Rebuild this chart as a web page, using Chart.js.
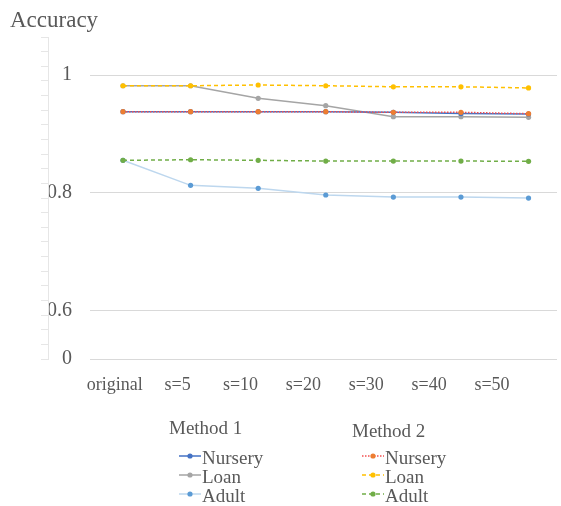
<!DOCTYPE html>
<html>
<head>
<meta charset="utf-8">
<script src="https://cdn.jsdelivr.net/npm/chart.js@4/dist/chart.umd.min.js"></script>
<style>
  html, body { margin: 0; padding: 0; background: #ffffff; }
  #wrap { position: relative; width: 561px; height: 506px; }
  #chart { position: absolute; left: 0; top: 0; }
  .legend { position: absolute; font-family: 'Liberation Serif', 'Times New Roman', serif; font-size: 19px; color: #595959; }
  .legend .head { height: 20px; line-height: 20px; white-space: nowrap; }
  .legend .row { height: 19.2px; line-height: 19.2px; white-space: nowrap; }
  .legend svg { vertical-align: top; margin-right: 1px; }
</style>
</head>
<body>
<div id="wrap">
  <canvas id="chart" width="561" height="506"></canvas>
</div>
<script>
// Catégories et valeurs
const categories = ['original', 's=5', 's=10', 's=20', 's=30', 's=40', 's=50'];

const nurseryM1 = [0.9377, 0.9377, 0.9377, 0.9377, 0.9367, 0.9346, 0.9338];
const loanM1    = [0.9818, 0.9818, 0.9604, 0.9479, 0.9292, 0.9292, 0.9282];
const adultM1   = [0.8552, 0.8127, 0.8076, 0.7963, 0.7929, 0.7929, 0.7912];

const nurseryM2 = [0.9377, 0.9377, 0.9377, 0.9377, 0.9367, 0.9367, 0.9343];
const loanM2    = [0.9818, 0.9818, 0.9830, 0.9818, 0.9800, 0.9800, 0.9780];
const adultM2   = [0.8552, 0.8562, 0.8552, 0.8540, 0.8540, 0.8540, 0.8535];

// Axe Y coupé : "0" est placé juste sous 0.6
const yTickValues = [0.518, 0.6, 0.8, 1];
const yTickLabels = ['0', '0.6', '0.8', '1'];

const methodNames = ['Method 1', 'Method 2'];
const seriesNames = ['Nursery', 'Loan', 'Adult'];

const FONT = "'Liberation Serif', 'Times New Roman', serif";
const TEXT = '#595959';

function toPoints(values) {
    return values.map((v, i) => ({ x: i, y: v }));
}

function makeDataset(label, values, lineColor, pointColor, dash, order) {
    return {
        label: label,
        data: toPoints(values),
        borderColor: lineColor,
        backgroundColor: pointColor,
        pointBackgroundColor: pointColor,
        pointBorderWidth: 0,
        pointRadius: 2.6,
        borderWidth: 1.5,
        borderDash: dash,
        tension: 0,
        fill: false,
        order: order,
        xAxisID: 'x',
        yAxisID: 'y'
    };
}

const datasets = [
    makeDataset('Nursery', nurseryM1, '#4472C4', '#4472C4', [], 1),
    makeDataset('Loan', loanM1, '#A5A5A5', '#A5A5A5', [], 1),
    makeDataset('Adult', adultM1, '#BDD7EE', '#5B9BD5', [], 1),
    makeDataset('Nursery', nurseryM2, '#F25050', '#ED7D31', [1.5, 1.5], 0),
    makeDataset('Loan', loanM2, '#FFC000', '#FFC000', [4, 3], 0),
    makeDataset('Adult', adultM2, '#70AD47', '#70AD47', [4, 3], 0)
];

const ctx = document.getElementById('chart');

const chart = new Chart(ctx, {
    type: 'line',
    data: { datasets: datasets },
    options: {
        responsive: false,
        animation: false,
        devicePixelRatio: 1,
        layout: { padding: { left: 10, right: 0, top: 0, bottom: 107 } },
        plugins: {
            legend: { display: false },
            tooltip: { enabled: false },
            title: {
                display: true,
                text: 'Accuracy',
                align: 'start',
                color: TEXT,
                font: { family: FONT, size: 23, weight: 'normal' },
                padding: { top: 7, bottom: 2.4 }
            }
        },
        scales: {
            // axe des données (invisible)
            x: {
                type: 'linear',
                display: false,
                min: -0.488,
                max: 6.421
            },
            // axe des libellés (décalé comme sur l'image)
            x2: {
                type: 'linear',
                position: 'bottom',
                display: true,
                min: -0.394,
                max: 7.033,
                grid: { display: false },
                border: { display: false },
                afterBuildTicks: scale => {
                    scale.ticks = categories.map((c, i) => ({ value: i }));
                },
                afterFit: scale => { scale.height = 40; },
                ticks: {
                    autoSkip: false,
                    maxRotation: 0,
                    padding: 7,
                    color: TEXT,
                    font: { family: FONT, size: 18 },
                    callback: (value, index) => categories[index]
                }
            },
            y: {
                type: 'linear',
                position: 'left',
                weight: 0,
                min: 0.518,
                max: 1.0645,
                afterBuildTicks: scale => {
                    scale.ticks = yTickValues.map(v => ({ value: v }));
                },
                afterFit: scale => { scale.width = 42; },
                grid: { color: '#D9D9D9', drawTicks: false, lineWidth: 1 },
                border: { display: false },
                ticks: {
                    padding: 18,
                    color: TEXT,
                    font: { family: FONT, size: 20 },
                    callback: (value, index) => yTickLabels[index]
                }
            },
            // ligne verticale à gauche avec petites graduations
            y2: {
                type: 'linear',
                position: 'left',
                display: true,
                weight: 1,
                min: 0,
                max: 22,
                afterFit: scale => { scale.width = 38; },
                grid: {
                    drawOnChartArea: false,
                    drawTicks: true,
                    tickLength: 7,
                    color: '#E6E6E6'
                },
                border: { display: true, color: '#E6E6E6' },
                ticks: { display: false, stepSize: 1 }
            }
        }
    }
});

// Légende HTML en deux colonnes
function sampleSvg(ds) {
    const dash = ds.borderDash && ds.borderDash.length ? ds.borderDash.join(' ') : 'none';
    return '<svg width="22" height="19">' +
        '<line x1="0" y1="8" x2="22" y2="8" stroke="' + ds.borderColor + '" stroke-width="1.5" stroke-dasharray="' + dash + '"/>' +
        '<circle cx="11" cy="8" r="2.6" fill="' + ds.pointBackgroundColor + '"/></svg>';
}

const wrap = document.getElementById('wrap');
const colHeadLeft = [169, 352];
const colHeadTop = [418, 420.5];
const colItemLeft = [179, 362];

methodNames.forEach((name, m) => {
    const head = document.createElement('div');
    head.className = 'legend';
    head.style.left = colHeadLeft[m] + 'px';
    head.style.top = colHeadTop[m] + 'px';
    head.innerHTML = '<div class="head">' + name + '</div>';
    wrap.appendChild(head);

    const items = document.createElement('div');
    items.className = 'legend';
    items.style.left = colItemLeft[m] + 'px';
    items.style.top = '447.5px';
    let html = '';
    seriesNames.forEach((s, k) => {
        const ds = chart.data.datasets[m * 3 + k];
        html += '<div class="row">' + sampleSvg(ds) + ds.label + '</div>';
    });
    items.innerHTML = html;
    wrap.appendChild(items);
});
</script>
</body>
</html>
